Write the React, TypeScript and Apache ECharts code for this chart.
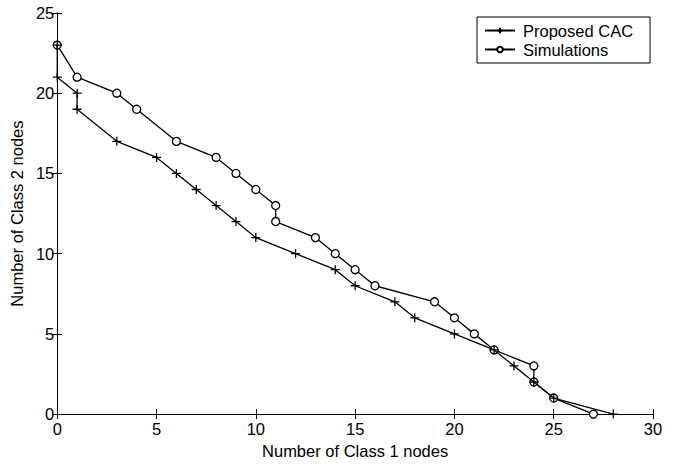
import React, { useEffect, useRef } from "react";
import * as echarts from "echarts";

const cacX = [0, 0, 1, 1, 3, 5, 6, 7, 8, 9, 10, 12, 14, 15, 17, 18, 20, 22, 23, 24, 25, 28];
const cacY = [23, 21, 20, 19, 17, 16, 15, 14, 13, 12, 11, 10, 9, 8, 7, 6, 5, 4, 3, 2, 1, 0];
const simX = [0, 1, 3, 4, 6, 8, 9, 10, 11, 11, 13, 14, 15, 16, 19, 20, 21, 22, 24, 24, 25, 27];
const simY = [23, 21, 20, 19, 17, 16, 15, 14, 13, 12, 11, 10, 9, 8, 7, 6, 5, 4, 3, 2, 1, 0];
const seriesNames = ["Proposed CAC", "Simulations"];
const xTitle = "Number of Class 1 nodes";
const yTitle = "Number of Class 2 nodes";

const FONT = "'Liberation Sans', Arial, Helvetica, sans-serif";
const FS = 16.5;
const PLUS = "path://M5,0L5,10M0,5L10,5";

export default function App() {
  const ref = useRef<HTMLDivElement>(null);
  useEffect(() => {
    if (!ref.current) return;
    const chart = echarts.init(ref.current, null, { renderer: "svg" });
    const pair = (xs: number[], ys: number[]) => xs.map((x, i) => [x, ys[i]]);
    const baseX = {
      type: "value",
      min: 0,
      max: 30,
      interval: 5,
      splitLine: { show: false },
      axisLine: { show: true, lineStyle: { color: "#000", width: 1 } },
      axisTick: { show: true, inside: true, length: 5, lineStyle: { color: "#000" } },
    };
    const baseY = {
      type: "value",
      min: 0,
      max: 25,
      interval: 5,
      splitLine: { show: false },
      axisLine: { show: true, lineStyle: { color: "#000", width: 1 } },
      axisTick: { show: true, inside: true, length: 5, lineStyle: { color: "#000" } },
    };
    chart.setOption({
      animation: false,
      backgroundColor: "#fff",
      textStyle: { fontFamily: FONT },
      grid: { left: 54, right: 21, top: 13, bottom: 41, containLabel: false },
      legend: {
        orient: "vertical",
        left: 477,
        top: 17,
        padding: [5, 17, 5, 7],
        itemGap: 2,
        itemWidth: 30,
        itemHeight: 7,
        backgroundColor: "#fff",
        borderColor: "#000",
        borderWidth: 1,
        textStyle: { fontSize: FS, color: "#000", fontFamily: FONT, padding: [0, 0, 0, 3] },
        data: seriesNames,
      },
      xAxis: [
        {
          ...baseX,
          position: "bottom",
          name: xTitle,
          nameLocation: "middle",
          nameGap: 22,
          nameTextStyle: { fontSize: FS, color: "#000", fontFamily: FONT },
          axisLabel: { fontSize: FS, color: "#000", margin: 6, fontFamily: FONT },
        },
        { ...baseX, position: "top", axisLabel: { show: false } },
      ],
      yAxis: [
        {
          ...baseY,
          position: "left",
          name: yTitle,
          nameLocation: "middle",
          nameGap: 27,
          nameTextStyle: { fontSize: FS, color: "#000", fontFamily: FONT },
          axisLabel: { fontSize: FS, color: "#000", margin: 3, fontFamily: FONT },
        },
        { ...baseY, position: "right", axisLabel: { show: false } },
      ],
      series: [
        {
          name: seriesNames[0],
          type: "line",
          data: pair(cacX, cacY),
          symbol: PLUS,
          symbolSize: 9,
          showAllSymbol: true,
          z: 3,
          lineStyle: { color: "#000", width: 1.3 },
          itemStyle: { color: "#000", borderColor: "#000", borderWidth: 1.3 },
        },
        {
          name: seriesNames[1],
          type: "line",
          data: pair(simX, simY),
          symbol: "circle",
          symbolSize: 8,
          showAllSymbol: true,
          z: 2,
          lineStyle: { color: "#000", width: 1.3 },
          itemStyle: { color: "#fff", borderColor: "#000", borderWidth: 1.3 },
        },
      ],
    });
    return () => chart.dispose();
  }, []);
  return <div ref={ref} style={{ width: 674, height: 464, position: "absolute", left: 0, top: 0 }} />;
}
